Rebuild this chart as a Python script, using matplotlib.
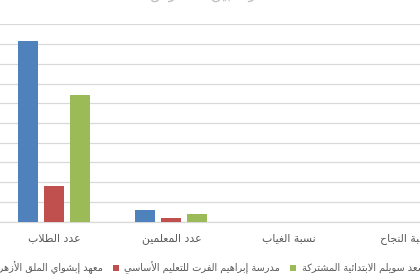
"""Grouped bar chart comparing three schools (cropped Excel-style view)."""

import matplotlib

matplotlib.use("Agg")
import matplotlib.pyplot as plt
import numpy as np
from matplotlib.patches import Patch

# ---- data -------------------------------------------------------------
categories = ["عدد الطلاب", "عدد المعلمين", "نسبة الغياب", "نسبة النجاح"]
series_names = [
    "معهد إبشواي الملق الأزهري",
    "مدرسة إبراهيم الفرت للتعليم الأساسي",
    "مدرسة سعد سويلم الابتدائية المشتركة",
]
azhar_values = [914, 58, 0.05, 0.9]
ibrahim_values = [182, 19, 0.04, 0.92]
saad_values = [643, 41, 0.03, 0.95]
title_text = "مقارنة بين المدارس"

colors = ["#4F81BD", "#C0504D", "#9BBB59"]
TEXT_COLOR = "#595959"
GRID_COLOR = "#D9D9D9"

# ---- minimal Arabic shaping (matplotlib has no bidi / joining) ---------
RIGHT_JOIN = {
    "آ": 0xFE81, "أ": 0xFE83, "ؤ": 0xFE85, "إ": 0xFE87, "ا": 0xFE8D, "ة": 0xFE93,
    "د": 0xFEA9, "ذ": 0xFEAB, "ر": 0xFEAD, "ز": 0xFEAF, "و": 0xFEED, "ى": 0xFEEF,
}
DUAL_JOIN = {
    "ئ": 0xFE89, "ب": 0xFE8F, "ت": 0xFE95, "ث": 0xFE99, "ج": 0xFE9D, "ح": 0xFEA1,
    "خ": 0xFEA5, "س": 0xFEB1, "ش": 0xFEB5, "ص": 0xFEB9, "ض": 0xFEBD, "ط": 0xFEC1,
    "ظ": 0xFEC5, "ع": 0xFEC9, "غ": 0xFECD, "ف": 0xFED1, "ق": 0xFED5, "ك": 0xFED9,
    "ل": 0xFEDD, "م": 0xFEE1, "ن": 0xFEE5, "ه": 0xFEE9, "ي": 0xFEF1,
}
LAM_ALEF = {"آ": 0xFEF5, "أ": 0xFEF7, "إ": 0xFEF9, "ا": 0xFEFB}


def shape_arabic(text):
    chars = list(text)
    n = len(chars)
    out = []
    i = 0
    while i < n:
        c = chars[i]
        link_prev = i > 0 and chars[i - 1] in DUAL_JOIN
        if c == "ل" and i + 1 < n and chars[i + 1] in LAM_ALEF:
            out.append(chr(LAM_ALEF[chars[i + 1]] + int(link_prev)))
            i += 2
            continue
        nxt = chars[i + 1] if i + 1 < n else None
        if c in DUAL_JOIN:
            link_next = nxt is not None and (nxt in DUAL_JOIN or nxt in RIGHT_JOIN)
            out.append(chr(DUAL_JOIN[c] + int(link_prev) + 2 * int(link_next)))
        elif c in RIGHT_JOIN:
            out.append(chr(RIGHT_JOIN[c] + int(link_prev)))
        elif c == "ء":
            out.append("\uFE80")
        else:
            out.append(c)
        i += 1
    return "".join(reversed(out))


plt.rcParams["font.family"] = ["DejaVu Sans"]

W, H = 420, 280
fig = plt.figure(figsize=(W / 100, H / 100), dpi=100)
fig.patch.set_facecolor("white")

# plot area runs past both side edges of the (cropped) picture
ax = fig.add_axes([-4.75 / W, 58.3 / H, 469.75 / W, 197.4 / H])

x = np.arange(len(categories))
bar_w = 0.17
offsets = [-0.221, 0.0, 0.221]
for vals, off, col in zip([azhar_values, ibrahim_values, saad_values], offsets, colors):
    ax.bar(x + off, vals, width=bar_w, color=col, linewidth=0, zorder=3)

ax.set_xlim(-0.5, len(categories) - 0.5)
ax.set_ylim(0, 1000)
ax.set_yticks(np.arange(0, 1001, 100))
ax.set_yticklabels([])
ax.yaxis.grid(True, color=GRID_COLOR, linewidth=0.9)
ax.set_axisbelow(True)
ax.tick_params(axis="y", length=0)
ax.set_xticks(x)
ax.set_xticklabels([shape_arabic(c) for c in categories], fontsize=7.8, color=TEXT_COLOR)
ax.tick_params(axis="x", length=0, pad=8.5)
for side in ["left", "right", "top"]:
    ax.spines[side].set_visible(False)
ax.spines["bottom"].set_color(GRID_COLOR)
ax.spines["bottom"].set_linewidth(0.9)

# legend: left-to-right entries, marker on the left of each label
handles = [Patch(facecolor=c, edgecolor="none") for c in colors]
leg_kw = dict(
    handles=handles,
    labels=[shape_arabic(s) for s in series_names],
    loc="center",
    ncol=3,
    frameon=False,
    fontsize=7,
    handlelength=0.65,
    handleheight=0.65,
    handletextpad=0.55,
    columnspacing=1.0,
    labelcolor=TEXT_COLOR,
    borderaxespad=0,
    borderpad=0,
)
leg = fig.legend(bbox_to_anchor=(0.5, 12.3 / H), **leg_kw)
fig.canvas.draw()
renderer = fig.canvas.get_renderer()
red_box = leg.legend_handles[1].get_window_extent(renderer)
shift = (112.7 - red_box.x0) / W
leg.remove()
leg = fig.legend(bbox_to_anchor=(0.5 + shift, 12.3 / H), **leg_kw)

# chart title, almost entirely above the cropped top edge
fig.text(213 / W, (H + 1) / H, shape_arabic(title_text), ha="center", va="baseline",
         fontsize=11, color="#BFBFBF")

fig.savefig("out.png", dpi=100, facecolor="white")
